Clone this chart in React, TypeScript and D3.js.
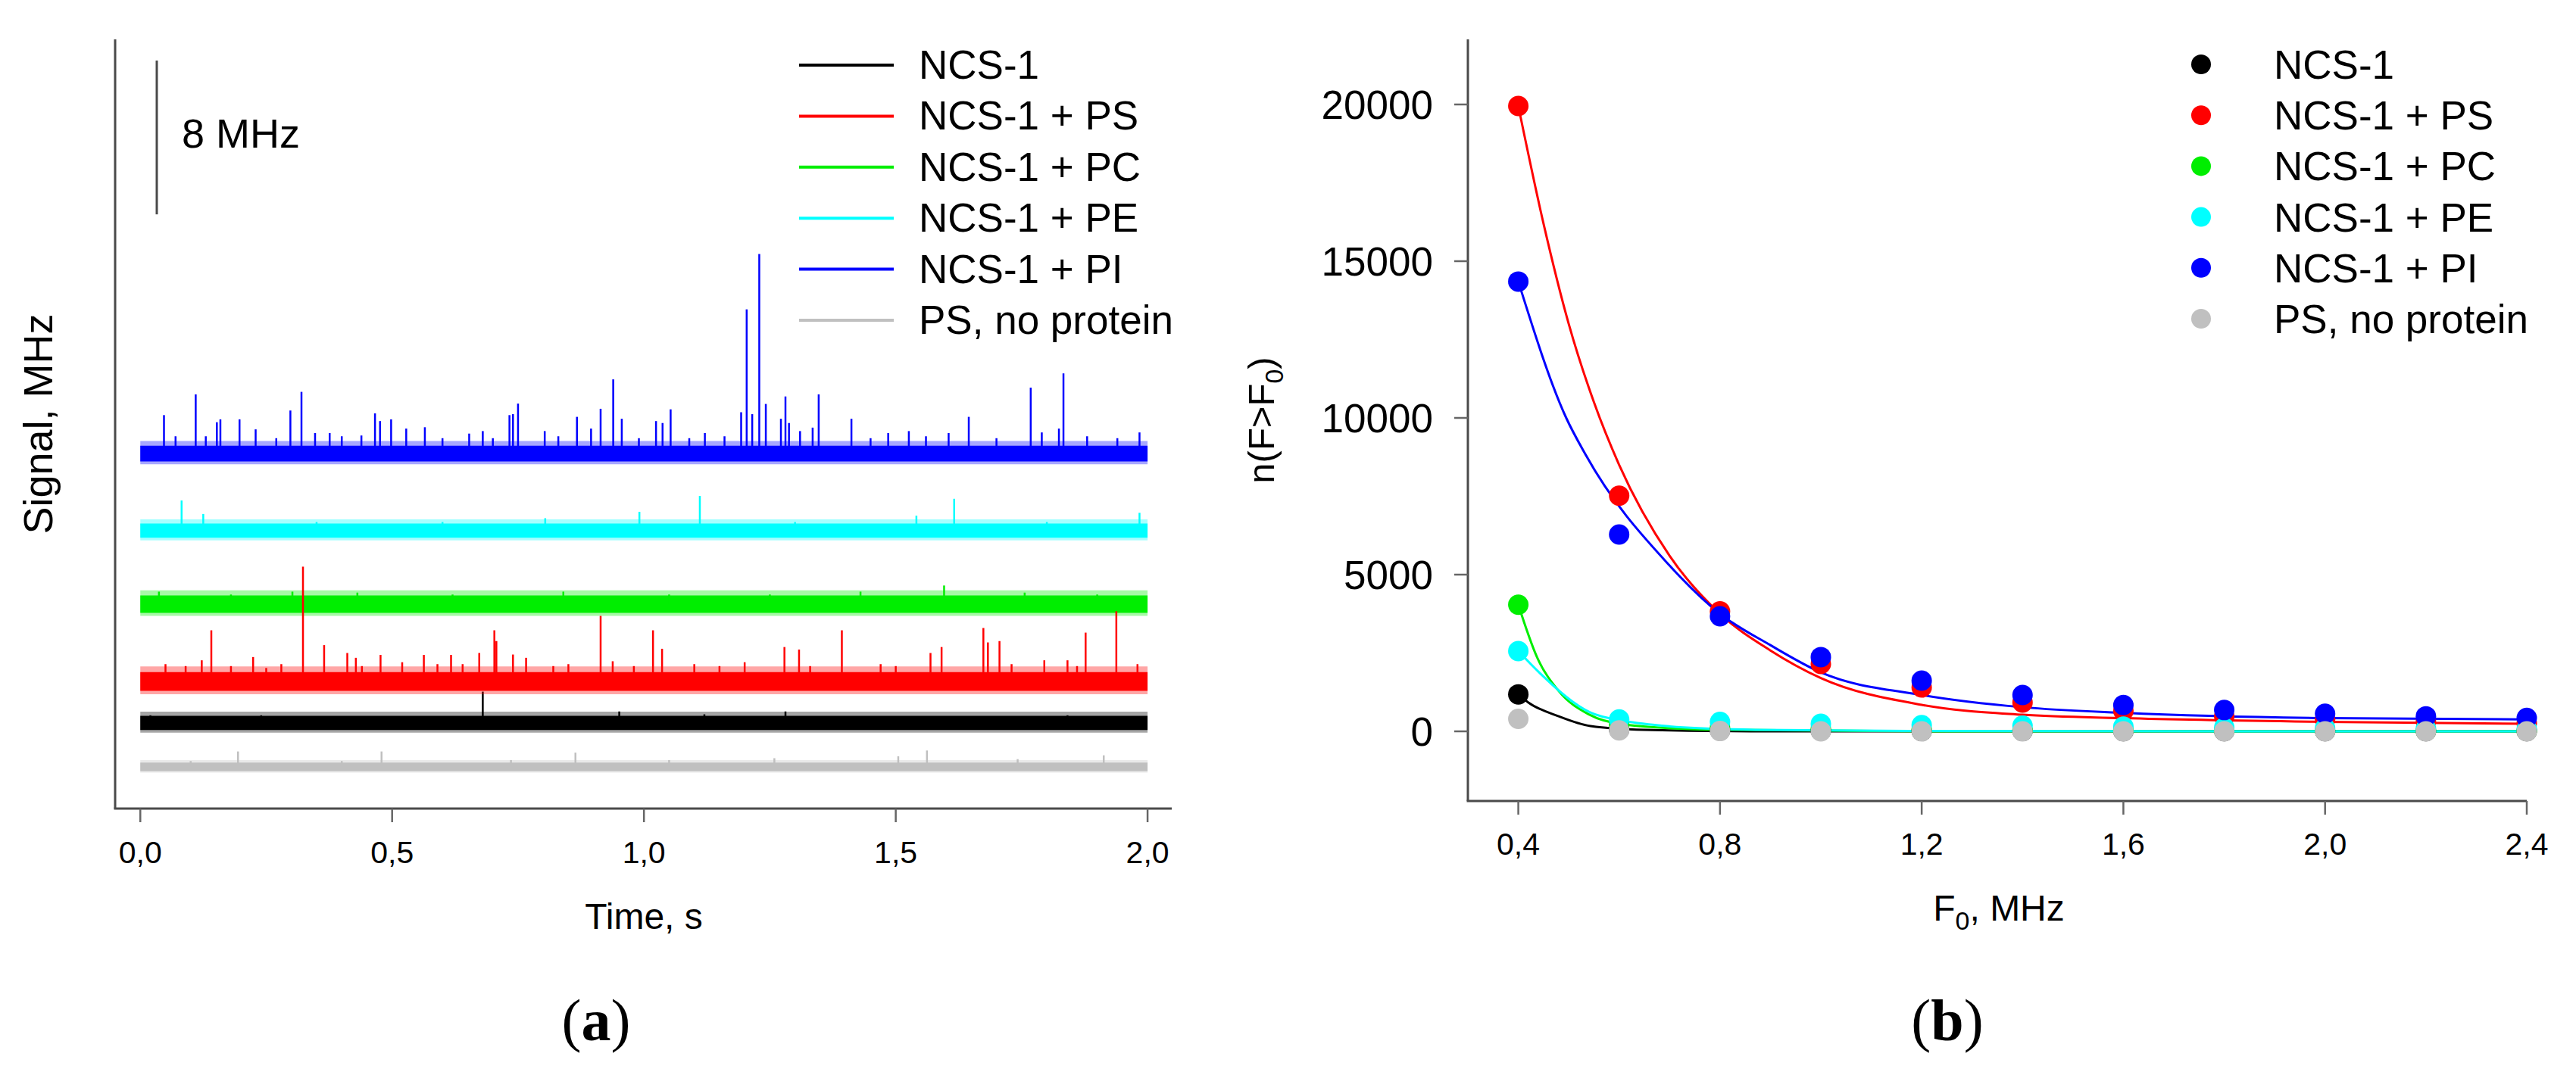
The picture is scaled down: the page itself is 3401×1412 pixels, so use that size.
import React from 'react';
import * as d3 from 'd3';

// series, same order everywhere
const seriesNames = ['NCS-1', 'NCS-1 + PS', 'NCS-1 + PC', 'NCS-1 + PE', 'NCS-1 + PI', 'PS, no protein'];
const seriesColors = ['#000000', '#ff0000', '#00ee00', '#00ffff', '#0000ff', '#c0c0c0'];

// (a) time traces: vertical offset of each trace (MHz), half width of the noise band (MHz)
const traceOffsets = [4.45, 6.61, 10.63, 14.45, 18.46, 2.17];
const traceNoise = [0.37, 0.49, 0.45, 0.37, 0.41, 0.22];

// spikes: [time s, height above trace MHz]
const spikesNCS1 = [[0.68, 1.63], [0.951, 0.6], [1.281, 0.6], [1.841, 0.4], [0.24, 0.4], [1.12, 0.45], [0.02, 0.4], [0.55, 0.35], [1.6, 0.35]];
const spikesPS = [
  [0.122, 1.1], [0.141, 2.66], [0.224, 1.27], [0.323, 5.97], [0.365, 1.89], [0.411, 1.48], [0.428, 1.23],
  [0.477, 1.38], [0.563, 1.38], [0.617, 1.38], [0.673, 1.48], [0.703, 2.66], [0.707, 2.1], [0.74, 1.4],
  [0.766, 1.23], [0.914, 3.41], [0.938, 1.05], [1.018, 2.66], [1.036, 1.7], [1.279, 1.79], [1.308, 1.66],
  [1.393, 2.66], [1.569, 1.48], [1.591, 1.79], [1.674, 2.78], [1.683, 2.03], [1.706, 2.1], [1.795, 1.1],
  [1.841, 1.1], [1.877, 2.54], [1.938, 3.65], [0.05, 0.9], [0.28, 0.9], [0.52, 1.0], [0.85, 0.9],
  [1.1, 0.9], [1.2, 1.0], [1.47, 0.9], [1.98, 0.9], [0.09, 0.8], [0.18, 0.8], [0.25, 0.7], [0.44, 0.8],
  [0.59, 0.9], [0.64, 0.9], [0.82, 0.8], [0.98, 0.8], [1.15, 0.8], [1.33, 0.8], [1.5, 0.8], [1.73, 0.9],
  [1.86, 0.8],
];
const spikesPC = [
  [0.037, 0.65], [0.302, 0.65], [0.431, 0.6], [0.84, 0.65], [1.43, 0.65], [1.596, 0.97], [1.756, 0.6],
  [0.18, 0.5], [0.62, 0.5], [1.05, 0.5], [1.25, 0.5], [1.9, 0.5],
];
const spikesPE = [
  [0.082, 1.57], [0.125, 0.87], [0.804, 0.65], [0.991, 0.98], [1.111, 1.81], [1.541, 0.78], [1.616, 1.66],
  [1.984, 0.93], [0.35, 0.45], [0.6, 0.45], [1.3, 0.45], [1.8, 0.45],
];
const spikesPI = [
  [0.047, 2.0], [0.11, 3.08], [0.152, 1.63], [0.159, 1.78], [0.197, 1.78], [0.229, 1.26], [0.298, 2.24],
  [0.32, 3.21], [0.347, 1.07], [0.376, 1.07], [0.439, 0.94], [0.466, 2.09], [0.476, 1.69], [0.498, 1.78],
  [0.528, 1.3], [0.565, 1.37], [0.653, 1.04], [0.68, 1.17], [0.733, 2.0], [0.74, 2.05], [0.75, 2.6],
  [0.803, 1.17], [0.867, 1.91], [0.895, 1.3], [0.914, 2.33], [0.939, 3.86], [0.956, 1.81], [1.024, 1.69],
  [1.037, 1.59], [1.053, 2.3], [1.121, 1.07], [1.193, 2.15], [1.204, 7.5], [1.215, 2.05], [1.229, 10.38],
  [1.242, 2.58], [1.272, 1.81], [1.281, 2.97], [1.288, 1.59], [1.31, 1.17], [1.335, 1.35], [1.347, 3.08],
  [1.412, 1.81], [1.485, 1.07], [1.526, 1.17], [1.605, 1.07], [1.645, 1.91], [1.768, 3.43], [1.79, 1.1],
  [1.824, 1.3], [1.833, 4.17], [1.984, 1.1], [0.07, 0.9], [0.13, 0.9], [0.27, 0.8], [0.4, 0.9],
  [0.6, 0.8], [0.7, 0.8], [0.83, 0.9], [0.99, 0.8], [1.09, 0.8], [1.16, 0.9], [1.45, 0.8], [1.56, 0.9],
  [1.7, 0.8], [1.88, 0.9], [1.94, 0.8],
];
const spikesNoProtein = [
  [0.194, 0.8], [0.479, 0.8], [0.864, 0.74], [0.736, 0.35], [1.259, 0.45], [1.505, 0.55], [1.562, 0.85],
  [1.742, 0.4], [1.913, 0.6], [0.1, 0.3], [0.4, 0.3], [1.05, 0.35],
];
const traceSpikes = [spikesNCS1, spikesPS, spikesPC, spikesPE, spikesPI, spikesNoProtein];
const traceDrawOrder = [5, 0, 2, 1, 3, 4];

const timeTicks = [0, 0.5, 1, 1.5, 2];
const scaleBarMHz = [30.9, 38.9];

// (b) cumulative counts
const f0Values = [0.4, 0.6, 0.8, 1.0, 1.2, 1.4, 1.6, 1.8, 2.0, 2.2, 2.4];
const countsNCS1 = [1180, 60, 30, 20, 10, 10, 5, 5, 5, 5, 5];
const countsPS = [19950, 7520, 3830, 2150, 1400, 920, 650, 480, 380, 320, 260];
const countsPC = [4040, 220, 120, 80, 60, 50, 40, 30, 30, 20, 20];
const countsPE = [2560, 380, 300, 240, 200, 180, 150, 120, 100, 90, 80];
const countsPI = [14350, 6280, 3670, 2370, 1620, 1160, 840, 680, 560, 480, 430];
const countsNoProtein = [400, 30, 10, 0, 0, 0, 0, 0, 0, 0, 0];
const seriesCounts = [countsNCS1, countsPS, countsPC, countsPE, countsPI, countsNoProtein];

// fitted curves, read as [F0, n]
const fitNCS1 = [[0.4, 1180], [0.42, 920], [0.48, 480], [0.543, 170], [0.65, 50], [0.9, 0], [2.4, 0]];
const fitPS = [[0.4, 19950], [0.45, 16200], [0.5, 13000], [0.55, 10500], [0.6, 8500], [0.7, 5600], [0.8, 3750], [0.9, 2580], [1.0, 1700], [1.2, 845], [1.4, 530], [1.6, 420], [2.0, 300], [2.4, 240]];
const fitPC = [[0.4, 4040], [0.437, 2370], [0.48, 1290], [0.54, 540], [0.61, 220], [0.8, 50], [1.2, 0], [2.4, 0]];
const fitPE = [[0.4, 2560], [0.442, 1870], [0.543, 600], [0.61, 330], [0.7, 160], [0.87, 50], [1.2, 10], [2.4, 0]];
const fitPI = [[0.4, 14350], [0.495, 10000], [0.533, 8840], [0.7, 5290], [0.8, 3750], [0.9, 2750], [1.0, 1880], [1.2, 1160], [1.4, 770], [1.6, 590], [2.0, 420], [2.4, 380]];
const seriesFits = [fitNCS1, fitPS, fitPC, fitPE, fitPI, null];
const fitDrawOrder = [0, 2, 1, 4, 3];
const dotDrawOrder = [0, 1, 2, 3, 4, 5];

const f0Ticks = [0.4, 0.8, 1.2, 1.6, 2.0, 2.4];
const countTicks = [0, 5000, 10000, 15000, 20000];

const FONT = "'Liberation Sans', Arial, sans-serif";
const AXIS = '#4a4a4a';

const comma = (v: number) => d3.format('.1f')(v).replace('.', ',');

export default function App() {
  // panel (a)
  const xa = d3.scaleLinear().domain([-0.05, 2.048]).range([152, 1547]);
  const ya = d3.scaleLinear().domain([0, 40]).range([1068, 52]);
  const band = d3.area<number>().x((t) => xa(t));

  // panel (b)
  const xb = d3.scaleLinear().domain([0.3, 2.4]).range([1938, 3336]);
  const yb = d3.scaleLinear().domain([-2222, 22077]).range([1058, 52]);
  const fitLine = d3
    .line<number[]>()
    .x((d) => xb(d[0]))
    .y((d) => yb(d[1]))
    .curve(d3.curveMonotoneX);

  const legendA = seriesNames.map((_, i) => 86 + i * 67.4);
  const legendB = seriesNames.map((_, i) => 85 + i * 67.2);

  return (
    <svg
      width={3401}
      height={1412}
      style={{ position: 'absolute', left: 0, top: 0, background: '#fff' }}
      fontFamily={FONT}
    >
      <rect width={3401} height={1412} fill="#fff" />

      {/* ---------- (a) ---------- */}
      <g>
        {traceDrawOrder.map((i) => {
          const base = traceOffsets[i];
          const h = traceNoise[i];
          const fuzz = band.y0(() => ya(base - h * 1.35)).y1(() => ya(base + h * 1.6))([0, 2]);
          const core = band.y0(() => ya(base - h)).y1(() => ya(base + h))([0, 2]);
          return (
            <g key={i}>
              <path d={fuzz || ''} fill={seriesColors[i]} opacity={0.35} />
              <path d={core || ''} fill={seriesColors[i]} />
              {traceSpikes[i].map(([t, amp], k) => (
                <line
                  key={k}
                  x1={xa(t)}
                  x2={xa(t)}
                  y1={ya(base)}
                  y2={ya(base + amp)}
                  stroke={seriesColors[i]}
                  strokeWidth={2.5}
                />
              ))}
            </g>
          );
        })}

        {/* scale bar */}
        <line x1={207} x2={207} y1={ya(scaleBarMHz[0])} y2={ya(scaleBarMHz[1])} stroke={AXIS} strokeWidth={3} />
        <text x={240} y={195} fontSize={54}>8 MHz</text>

        {/* axes */}
        <line x1={152} x2={152} y1={52} y2={1068} stroke={AXIS} strokeWidth={3} />
        <line x1={150.5} x2={1547} y1={1068} y2={1068} stroke={AXIS} strokeWidth={3} />
        {timeTicks.map((t) => (
          <g key={t}>
            <line x1={xa(t)} x2={xa(t)} y1={1068} y2={1086} stroke="#666" strokeWidth={2.5} />
            <text x={xa(t)} y={1140} fontSize={41} textAnchor="middle">{comma(t)}</text>
          </g>
        ))}
        <text x={850} y={1227} fontSize={48} textAnchor="middle">Time, s</text>
        <text transform="translate(69,560) rotate(-90)" fontSize={54} textAnchor="middle">Signal, MHz</text>

        {/* legend */}
        {seriesNames.map((name, i) => (
          <g key={name}>
            <line x1={1055} x2={1180} y1={legendA[i]} y2={legendA[i]} stroke={seriesColors[i]} strokeWidth={4} />
            <text x={1213} y={legendA[i] + 18} fontSize={53}>{name}</text>
          </g>
        ))}

        <text x={787} y={1374} fontSize={78} textAnchor="middle" fontFamily="'Liberation Serif', 'Times New Roman', serif">
          (<tspan fontWeight="bold">a</tspan>)
        </text>
      </g>

      {/* ---------- (b) ---------- */}
      <g>
        {fitDrawOrder.map((i) => (
          <path key={i} d={fitLine(seriesFits[i] as number[][]) || ''} fill="none" stroke={seriesColors[i]} strokeWidth={3} />
        ))}
        {dotDrawOrder.map((i) => (
          <g key={i}>
            {seriesCounts[i].map((v, k) => (
              <circle key={k} cx={xb(f0Values[k])} cy={yb(v)} r={13.5} fill={seriesColors[i]} />
            ))}
          </g>
        ))}

        <line x1={1938} x2={1938} y1={52} y2={1058} stroke={AXIS} strokeWidth={3} />
        <line x1={1936.5} x2={3336} y1={1058} y2={1058} stroke={AXIS} strokeWidth={3} />
        {f0Ticks.map((t) => (
          <g key={t}>
            <line x1={xb(t)} x2={xb(t)} y1={1058} y2={1076} stroke="#666" strokeWidth={2.5} />
            <text x={xb(t)} y={1129} fontSize={41} textAnchor="middle">{comma(t)}</text>
          </g>
        ))}
        {countTicks.map((v) => (
          <g key={v}>
            <line x1={1920} x2={1938} y1={yb(v)} y2={yb(v)} stroke="#666" strokeWidth={2.5} />
            <text x={1892} y={yb(v)} dy="0.36em" fontSize={53} textAnchor="end">{v}</text>
          </g>
        ))}
        <text x={2639} y={1216} fontSize={48} textAnchor="middle">
          F<tspan fontSize={34} dy={12}>0</tspan><tspan dy={-12}>, MHz</tspan>
        </text>
        <text transform="translate(1682,555) rotate(-90)" fontSize={49} textAnchor="middle">
          n(F&gt;F<tspan fontSize={34} dy={12}>0</tspan><tspan dy={-12}>)</tspan>
        </text>

        {seriesNames.map((name, i) => (
          <g key={name}>
            <circle cx={2906} cy={legendB[i]} r={13} fill={seriesColors[i]} />
            <text x={3002} y={legendB[i] + 19} fontSize={53}>{name}</text>
          </g>
        ))}

        <text x={2571} y={1374} fontSize={78} textAnchor="middle" fontFamily="'Liberation Serif', 'Times New Roman', serif">
          (<tspan fontWeight="bold">b</tspan>)
        </text>
      </g>
    </svg>
  );
}
